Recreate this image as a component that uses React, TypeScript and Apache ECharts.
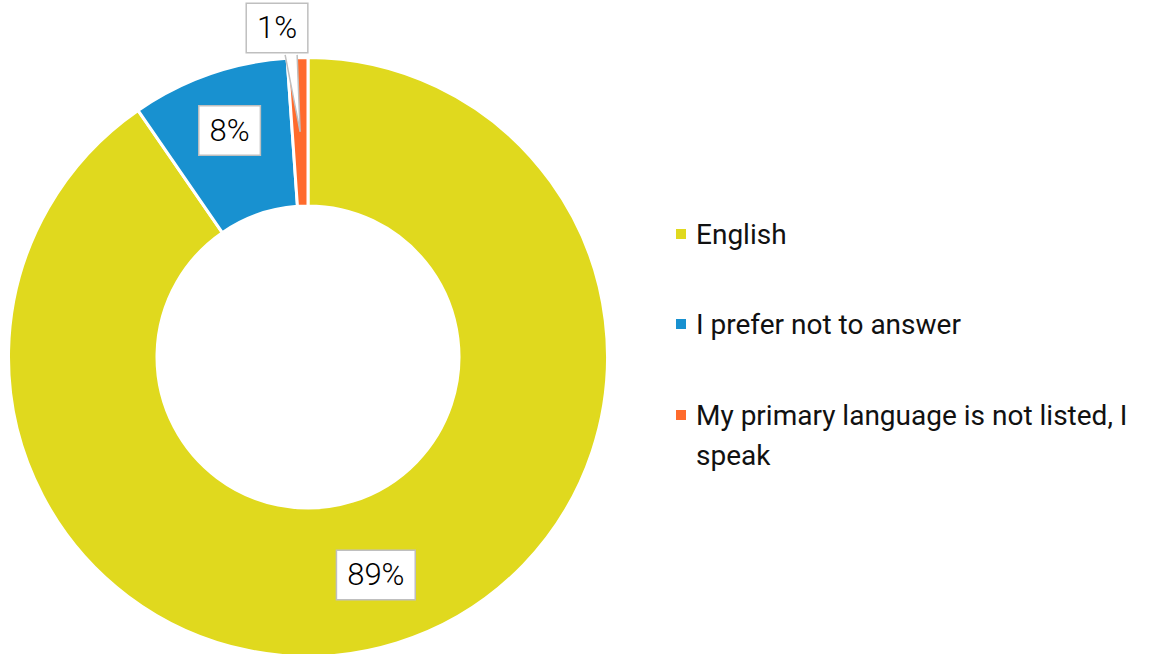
import React, { useEffect, useRef } from "react";
import * as echarts from "echarts";

const categories = [
  "English",
  "I prefer not to answer",
  "My primary language is not listed, I speak",
];
const shares = [89.4, 8.4, 1.1];
const colors = ["#E0D91E", "#1891D0", "#FF6B2C"];

const CENTER = [308, 357];
const RADII = [151, 299.5];
const FONT = "Roboto, 'Noto Sans', sans-serif";
const LABEL_OFFSETS = [[0, 0], [-3, -11], [-23, -101]];
const LABEL_H = 49;

export default function App() {
  const ref = useRef<HTMLDivElement>(null);
  useEffect(() => {
    if (!ref.current) return;
    const chart = echarts.init(ref.current, null, { renderer: "svg" });
    const total = shares.reduce((a, b) => a + b, 0);

    // geometry of the small slice's callout (derived from data)
    const before = shares[0] + shares[1];
    const mid = ((before + shares[2] / 2) / total) * Math.PI * 2;
    const rMid = (RADII[0] + RADII[1]) / 2;
    const ix = CENTER[0] + Math.sin(mid) * rMid;
    const iy = CENTER[1] - Math.cos(mid) * rMid;
    const lx = ix + LABEL_OFFSETS[2][0];
    const ly = iy + LABEL_OFFSETS[2][1];
    const by = ly + LABEL_H / 2 - 0.5;
    const b1: [number, number] = [lx + 8, by];
    const b2: [number, number] = [lx + 20, by];
    const tip: [number, number] = [ix, iy];

    const data = categories.map((name, i) => ({
      name,
      value: shares[i],
      itemStyle: { color: colors[i] },
      label: { offset: LABEL_OFFSETS[i] },
    }));

    const legendText = {
      fontSize: 28,
      fontFamily: FONT,
      color: "#111",
      lineHeight: 40,
      padding: [0, 0, 0, 4],
    };

    const option: any = {
      animation: false,
      legend: [
        {
          orient: "vertical",
          left: 674,
          top: 214,
          padding: 0,
          itemGap: 50,
          itemWidth: 12,
          itemHeight: 12,
          icon: "rect",
          selectedMode: false,
          textStyle: legendText,
          data: [categories[0], categories[1]],
        },
        {
          orient: "vertical",
          left: 674,
          top: 395,
          padding: 0,
          itemWidth: 12,
          itemHeight: 52,
          icon: "path://M0,0H12V12H0Z M0,52H0.01V51.99H0Z",
          selectedMode: false,
          textStyle: { ...legendText, width: 462, overflow: "break" },
          data: [categories[2]],
        },
      ],
      series: [
        {
          type: "pie",
          center: CENTER,
          radius: RADII,
          startAngle: 90,
          clockwise: true,
          avoidLabelOverlap: false,
          itemStyle: { borderColor: "#fff", borderWidth: 3 },
          label: {
            show: true,
            position: "inside",
            formatter: (p: any) => `${Math.round(p.value)}%`,
            fontSize: 31,
            fontWeight: 300,
            fontFamily: FONT,
            color: "#000",
            backgroundColor: "#fff",
            borderColor: "#BFBFBF",
            borderWidth: 1.5,
            lineHeight: 38,
            padding: [6, 10, 4, 10],
          },
          labelLine: { show: false },
          emphasis: { disabled: true },
          data,
        },
      ],
      graphic: [
        {
          type: "polygon",
          z: 100,
          shape: { points: [b1, tip, b2] },
          style: { fill: "#fff", stroke: "none" },
        },
        {
          type: "polyline",
          z: 101,
          shape: { points: [b1, tip, b2] },
          style: { fill: "none", stroke: "#BFBFBF", lineWidth: 1.5 },
        },
      ],
    };
    chart.setOption(option);
    return () => chart.dispose();
  }, []);
  return (
    <div
      ref={ref}
      style={{ position: "fixed", left: 0, top: 0, width: 1155, height: 654, background: "#fff" }}
    />
  );
}
